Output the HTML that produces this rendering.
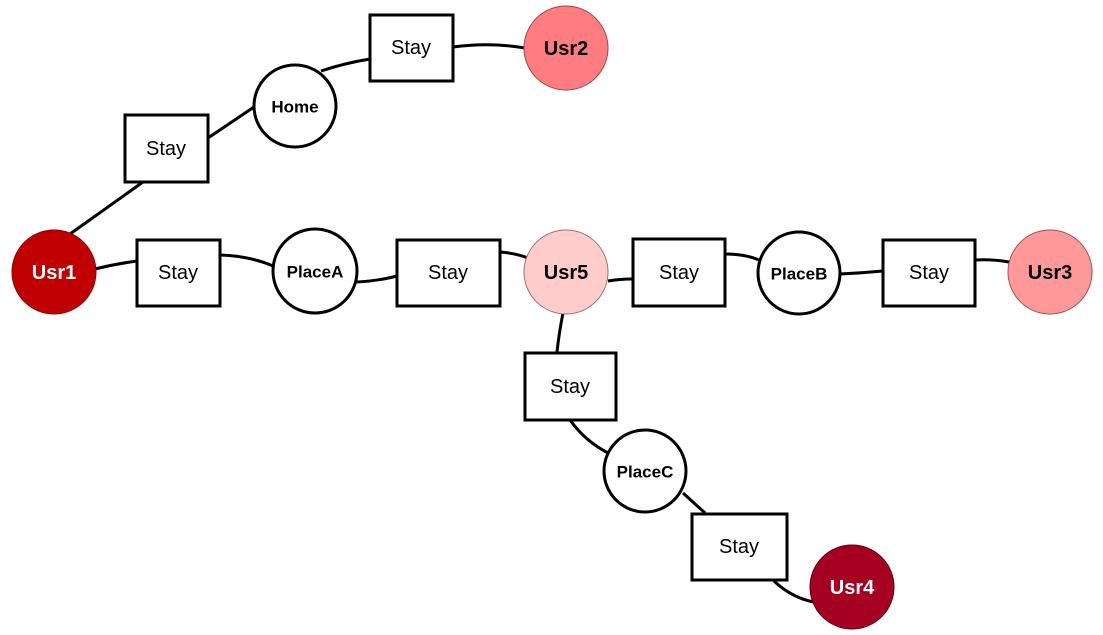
<!DOCTYPE html>
<html><head><meta charset="utf-8"><style>
html,body{margin:0;padding:0;background:#fff;}
svg{display:block;}
text{font-family:"Liberation Sans",sans-serif;dominant-baseline:central;text-anchor:middle;}
.s{font-size:20px;fill:#000;}
.b{font-size:20px;font-weight:bold;}
.p{font-size:17px;font-weight:bold;fill:#000;}
</style></head><body>
<svg width="1103" height="635" viewBox="0 0 1103 635" xmlns="http://www.w3.org/2000/svg">
<g fill="none" stroke="#000" stroke-width="3">
<line x1="70" y1="234" x2="143" y2="182"/>
<line x1="208" y1="138" x2="254" y2="107"/>
<path d="M321 71 Q345 63 370 59"/>
<path d="M453 47 Q490 42 525 48"/>
<path d="M95 269 Q115 264 137 261"/>
<path d="M220 255 Q250 256 273 266"/>
<path d="M357 282 Q378 281 397 276"/>
<path d="M500 252 Q515 253 528 258"/>
<path d="M608 281 Q620 279 632 279"/>
<path d="M725 254 Q745 254 759 260"/>
<path d="M840 274 Q862 273 883 271"/>
<path d="M975 260 Q992 259 1009 262"/>
<path d="M563 313 Q559 333 557 352"/>
<path d="M570 420 Q585 441 608 453"/>
<line x1="683" y1="493" x2="705" y2="513"/>
<path d="M774 581 Q792 598 814 602"/>
</g>
<!-- Stay boxes -->
<g fill="#fff" stroke="#000" stroke-width="3">
<rect x="370" y="15" width="83" height="66"/>
<rect x="125" y="115" width="83" height="67"/>
<rect x="137" y="240" width="83" height="66"/>
<rect x="397" y="240" width="103" height="66"/>
<rect x="633" y="239" width="92" height="67"/>
<rect x="883" y="240" width="92" height="66"/>
<rect x="525" y="353" width="91" height="67"/>
<rect x="692" y="514" width="95" height="66"/>
</g>
<!-- Place circles -->
<g fill="#fff" stroke="#000" stroke-width="3">
<circle cx="295" cy="106" r="41"/>
<circle cx="315" cy="271" r="42"/>
<circle cx="799" cy="273" r="41"/>
<circle cx="645" cy="471" r="41"/>
</g>
<!-- User circles -->
<circle cx="54" cy="272" r="42" fill="#C00000" stroke="#8a0000" stroke-width="1"/>
<circle cx="566" cy="48" r="42" fill="#FF7C80" stroke="#a04448" stroke-width="1"/>
<circle cx="566" cy="272" r="42" fill="#FFCCCC" stroke="#a07070" stroke-width="1"/>
<circle cx="1050" cy="272" r="42" fill="#FF9999" stroke="#a05050" stroke-width="1"/>
<circle cx="852" cy="587" r="42" fill="#A50021" stroke="#5a0010" stroke-width="1"/>
<!-- labels -->
<text class="s" x="411" y="48">Stay</text>
<text class="s" x="166" y="149">Stay</text>
<text class="s" x="178" y="273">Stay</text>
<text class="s" x="448" y="273">Stay</text>
<text class="s" x="679" y="273">Stay</text>
<text class="s" x="929" y="273">Stay</text>
<text class="s" x="570" y="387">Stay</text>
<text class="s" x="739" y="547">Stay</text>
<text class="p" x="295" y="107">Home</text>
<text class="p" x="315" y="272">PlaceA</text>
<text class="p" x="799" y="274">PlaceB</text>
<text class="p" x="645" y="472">PlaceC</text>
<text class="b" x="54" y="273" fill="#fff">Usr1</text>
<text class="b" x="566" y="49" fill="#000">Usr2</text>
<text class="b" x="566" y="273" fill="#000">Usr5</text>
<text class="b" x="1050" y="273" fill="#000">Usr3</text>
<text class="b" x="852" y="588" fill="#fff">Usr4</text>
</svg>
</body></html>
